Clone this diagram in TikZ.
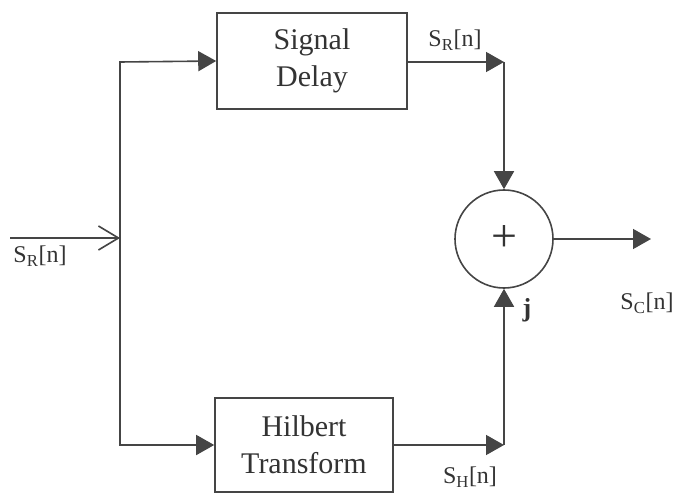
\documentclass[tikz,border=0pt]{standalone}
\usepackage{fontspec}
\setmainfont{Liberation Serif}
\usepackage{tikz}
\usetikzlibrary{arrows.meta,positioning}
\definecolor{wire}{HTML}{454545}
\definecolor{ink}{HTML}{333333}

\begin{document}
\begin{tikzpicture}[x=1pt,y=-1pt,line width=1.6pt,draw=wire,text=ink,
  >={Triangle[length=18pt,width=20pt]}]
  \tikzset{block/.style={draw=wire,rectangle,inner sep=0pt,align=center,font=\fontsize{30}{37}\selectfont},
    sumnode/.style={draw=wire,circle,minimum size=98pt,inner sep=0pt,font=\fontsize{46}{46}\selectfont},
    sig/.style={font=\fontsize{24}{26}\selectfont,inner sep=0pt}}
  \useasboundingbox (0,0) rectangle (677,494);
  \node[block,minimum width=190pt,minimum height=96pt] (delay) at (312,61) {Signal\\Delay};
  \node[block,minimum width=178pt,minimum height=94pt] (hilbert) at (304,445) {Hilbert\\Transform};
  \node[sumnode] (adder) at (504,239) {};
  \node[font=\fontsize{46}{46}\selectfont,inner sep=0pt] (plus) at (adder.center) {+};
  \coordinate (in) at (10,238);
  \coordinate (split) at (120,238);
  \coordinate (uppercorner) at (120,62);
  \coordinate (lowercorner) at (120,445);
  \coordinate (delayout) at (504,62);
  \coordinate (hilbertout) at (504,445);
  \coordinate (out) at (651,239);
  % input and branching
  \draw[-{Straight Barb[length=20pt,width=24pt]}] (in) -- (split);
  \draw[->] (split) -- (uppercorner) -- (delay.west);
  \draw[->] (split) -- (lowercorner) -- (hilbert.west);
  % into the adder
  \draw[->] (delay.east |- delayout) -- (delayout);
  \draw[->] (delayout) -- (adder.north);
  \draw[->] (hilbert.east |- hilbertout) -- (hilbertout);
  \draw[->] (hilbertout) -- (adder.south);
  \draw[->] (adder.east) -- (out);
  % signal labels
  \node[sig] (sin) at (40,256) {S\textsubscript{R}[n]};
  \node[sig] (sdelay) at (455,40) {S\textsubscript{R}[n]};
  \node[sig] (shilbert) at (470,477) {S\textsubscript{H}[n]};
  \node[sig] (sout) at (647,303) {S\textsubscript{C}[n]};
  \node[sig,font=\fontsize{26}{26}\selectfont\bfseries] (jfactor) at (527,310) {j};
\end{tikzpicture}
\end{document}
